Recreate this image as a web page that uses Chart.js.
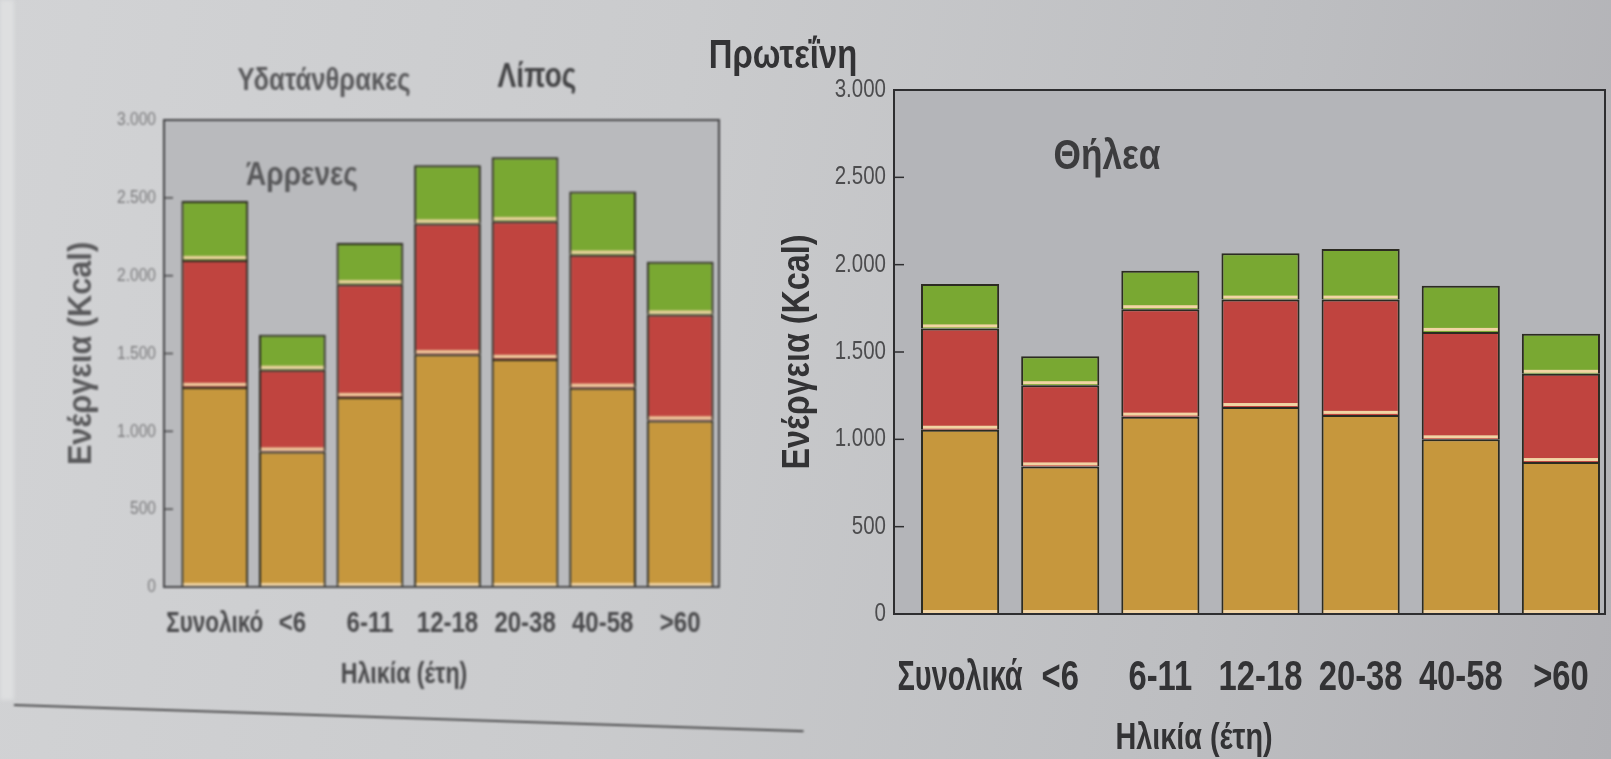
<!DOCTYPE html>
<html>
<head>
<meta charset="utf-8">
<script src="https://cdn.jsdelivr.net/npm/chart.js@4.4.1/dist/chart.umd.min.js"></script>
<style>
  html, body { margin: 0; padding: 0; }
  body {
    width: 1611px; height: 759px; overflow: hidden; position: relative;
    background: linear-gradient(100deg, #d2d3d5 0%, #cacbcd 40%, #bdbec1 75%, #b1b1b5 100%);
    font-family: "Liberation Sans", Arial, sans-serif;
  }
  .edge { position: absolute; left: 0; top: 0; width: 14px; height: 700px; background: #dedfe0; filter: blur(2px); }
  .rule { position: absolute; left: 14px; top: 704px; width: 790px; height: 2px; background: #4a4a4c;
          transform-origin: 0 0; transform: rotate(1.9deg); filter: blur(1px); }
  .wrap { position: absolute; top: 0; height: 759px; }
  #maleWrap { left: 0; width: 780px; filter: blur(1.1px); }
  #femaleWrap { left: 760px; width: 851px; filter: blur(0.4px); }
  .lbl { position: absolute; font-weight: bold; white-space: nowrap; line-height: 1; }
  .soft { filter: blur(1.1px); }
</style>
</head>
<body>
<div class="edge"></div>
<div class="rule"></div>

<div class="wrap" id="maleWrap"><canvas id="male" width="780" height="759"></canvas></div>
<div class="wrap" id="femaleWrap"><canvas id="female" width="851" height="759"></canvas></div>

<!-- macronutrient names above the charts -->
<div class="lbl soft" style="left:324px; top:79px; font-size:32px; color:#5a5a5c; transform:translate(-50%,-50%) scaleX(0.8);">Υδατάνθρακες</div>
<div class="lbl soft" style="left:537px; top:74px; font-size:35px; color:#434345; transform:translate(-50%,-50%) scaleX(0.8);">Λίπος</div>
<div class="lbl" style="left:783px; top:54px; font-size:41px; color:#333335; transform:translate(-50%,-50%) scaleX(0.8);">Πρωτεΐνη</div>

<!-- panel captions -->
<div class="lbl soft" style="left:302px; top:173px; font-size:33px; color:#58585a; transform:translate(-50%,-50%) scaleX(0.85);">Άρρενες</div>
<div class="lbl" style="left:1107px; top:154px; font-size:43px; color:#3c3c3e; transform:translate(-50%,-50%) scaleX(0.82);">Θήλεα</div>

<!-- x axis titles -->
<div class="lbl soft" style="left:404px; top:673px; font-size:29px; color:#4a4a4c; transform:translate(-50%,-50%) scaleX(0.8);">Ηλικία (έτη)</div>
<div class="lbl" style="left:1194px; top:737px; font-size:36px; color:#333335; transform:translate(-50%,-50%) scaleX(0.8);">Ηλικία (έτη)</div>

<script>
// Energy intake by age group, split into carbohydrate / fat / protein (kcal)
const maleAgeGroups = ['Συνολικό', '<6', '6-11', '12-18', '20-38', '40-58', '>60'];
const femaleAgeGroups = ['Συνολικά', '<6', '6-11', '12-18', '20-38', '40-58', '>60'];
const nutrientNames = ['Υδατάνθρακες', 'Λίπος', 'Πρωτεΐνη'];

const maleCarbs   = [1285, 870, 1220, 1495, 1465, 1280, 1070];
const maleFat     = [815, 525, 725, 840, 885, 855, 680];
const maleProtein = [380, 225, 265, 375, 410, 405, 340];

const femaleCarbs   = [1055, 845, 1130, 1185, 1140, 1000, 870];
const femaleFat     = [580, 465, 615, 615, 660, 615, 505];
const femaleProtein = [255, 165, 220, 265, 290, 265, 230];

const energyTicks = [0, 500, 1000, 1500, 2000, 2500, 3000];
const energyTitle = 'Ενέργεια (Kcal)';

const carbColor = '#c6973d';
const fatColor = '#c0443f';
const proteinColor = '#79a832';
const outline = '#2c2b22';
const FACE = '"Liberation Sans", Arial, sans-serif';

// 3000 -> "3.000"
function fmtKcal(v) {
  if (v < 1000) return String(v);
  return Math.floor(v / 1000) + '.' + String(v % 1000).padStart(3, '0');
}

// Text squeezed horizontally, for the narrow grotesque used on the axes
function drawSqueezed(ctx, text, x, y, o) {
  ctx.save();
  ctx.translate(x, y);
  if (o.vertical) ctx.rotate(-Math.PI / 2);
  ctx.scale(o.k, 1);
  ctx.font = (o.weight || 'normal') + ' ' + o.size + 'px ' + FACE;
  ctx.fillStyle = o.color;
  ctx.textAlign = o.align || 'center';
  ctx.textBaseline = 'middle';
  if (o.maxWidth) ctx.fillText(text, 0, 0, o.maxWidth / o.k);
  else ctx.fillText(text, 0, 0);
  ctx.restore();
}

// Plot background, pale seam under each segment, frame, inward tick marks and axis text
const panelDecor = {
  id: 'panelDecor',
  beforeDatasetsDraw(chart, args, opts) {
    const { ctx, chartArea: a } = chart;
    ctx.save();
    ctx.fillStyle = opts.plotFill;
    ctx.fillRect(a.left - opts.extLeft, a.top, a.right - a.left + opts.extLeft + opts.extRight, a.bottom - a.top);
    ctx.restore();
  },
  afterDatasetsDraw(chart, args, opts) {
    const { ctx, chartArea: a } = chart;
    const fl = a.left - opts.extLeft;
    const fr = a.right + opts.extRight;
    ctx.save();
    ctx.fillStyle = opts.seam;
    chart.data.datasets.forEach((ds, i) => {
      chart.getDatasetMeta(i).data.forEach(bar => {
        const p = bar.getProps(['x', 'base', 'width'], true);
        ctx.fillRect(p.x - p.width / 2 + 2, p.base - 4, p.width - 4, 3);
      });
    });
    ctx.strokeStyle = opts.frame;
    ctx.lineWidth = 2;
    ctx.strokeRect(fl, a.top, fr - fl, a.bottom - a.top);

    const ys = chart.scales.y;
    const xs = chart.scales.x;
    ctx.lineWidth = 1.5;
    ys.ticks.forEach(t => {
      const py = ys.getPixelForValue(t.value);
      ctx.beginPath();
      ctx.moveTo(fl, py);
      ctx.lineTo(fl + opts.tickLen, py);
      ctx.stroke();
      drawSqueezed(ctx, fmtKcal(t.value), fl - 8, py,
        { size: opts.ySize, k: opts.yK, color: opts.yColor, align: 'right' });
    });
    ctx.restore();

    const pitch = (a.right - a.left) / chart.data.labels.length;
    chart.data.labels.forEach((lab, i) => {
      drawSqueezed(ctx, lab, xs.getPixelForTick(i), a.bottom + opts.xOffset,
        { size: opts.xSize, k: opts.xK, weight: 'bold', color: opts.xColor, maxWidth: pitch * 1.25 });
    });

    drawSqueezed(ctx, energyTitle, opts.yTitleX, (a.top + a.bottom) / 2,
      { size: opts.yTitleSize, k: opts.yTitleK, weight: 'bold', color: opts.titleColor, vertical: true });
  }
};

function segment(label, data, color) {
  return {
    label, data,
    backgroundColor: color,
    borderColor: outline,
    borderWidth: { top: 2, left: 2, right: 2, bottom: 0 },
    borderSkipped: false
  };
}

function makePanel(canvasId, cfg) {
  return new Chart(document.getElementById(canvasId), {
    type: 'bar',
    data: {
      labels: cfg.labels,
      datasets: [
        segment(nutrientNames[0], cfg.carbs, carbColor),
        segment(nutrientNames[1], cfg.fat, fatColor),
        segment(nutrientNames[2], cfg.protein, proteinColor)
      ]
    },
    options: {
      responsive: false,
      animation: false,
      devicePixelRatio: 1,
      layout: { padding: { left: 0, top: cfg.top, right: cfg.right, bottom: 0 } },
      datasets: { bar: { categoryPercentage: 1, barPercentage: cfg.barPct } },
      plugins: {
        legend: { display: false },
        tooltip: { enabled: false },
        panelDecor: cfg.decor
      },
      scales: {
        x: {
          stacked: true,
          grid: { display: false },
          border: { display: false },
          ticks: { display: false },
          afterFit(s) { s.height = cfg.xHeight; }
        },
        y: {
          stacked: true,
          min: 0, max: 3000,
          afterBuildTicks(s) { s.ticks = energyTicks.map(v => ({ value: v })); },
          grid: { display: false },
          border: { display: false },
          ticks: { display: false },
          afterFit(s) { s.width = cfg.yWidth; }
        }
      }
    },
    plugins: [panelDecor]
  });
}

makePanel('male', {
  labels: maleAgeGroups, carbs: maleCarbs, fat: maleFat, protein: maleProtein,
  top: 120, right: 61, barPct: 0.86, xHeight: 172, yWidth: 176,
  decor: {
    plotFill: '#b9babd', seam: '#f1d4a4', frame: '#454547', tickLen: 9,
    extLeft: 12, extRight: 0,
    xSize: 30, xK: 0.8, xColor: '#4a4a4c', xOffset: 37,
    ySize: 19, yK: 0.82, yColor: '#7c7c7e',
    yTitleX: 82, yTitleSize: 33, yTitleK: 0.93, titleColor: '#5a5a5c'
  }
});

makePanel('female', {
  labels: femaleAgeGroups, carbs: femaleCarbs, fat: femaleFat, protein: femaleProtein,
  top: 90, right: 0, barPct: 0.78, xHeight: 145, yWidth: 150,
  decor: {
    plotFill: '#b4b5b9', seam: '#f1d4a4', frame: '#2e2e30', tickLen: 10,
    extLeft: 16, extRight: -6,
    xSize: 42, xK: 0.78, xColor: '#333335', xOffset: 64,
    ySize: 25, yK: 0.82, yColor: '#4c4c4e',
    yTitleX: 39, yTitleSize: 38, yTitleK: 0.85, titleColor: '#333335'
  }
});
</script>
</body>
</html>
